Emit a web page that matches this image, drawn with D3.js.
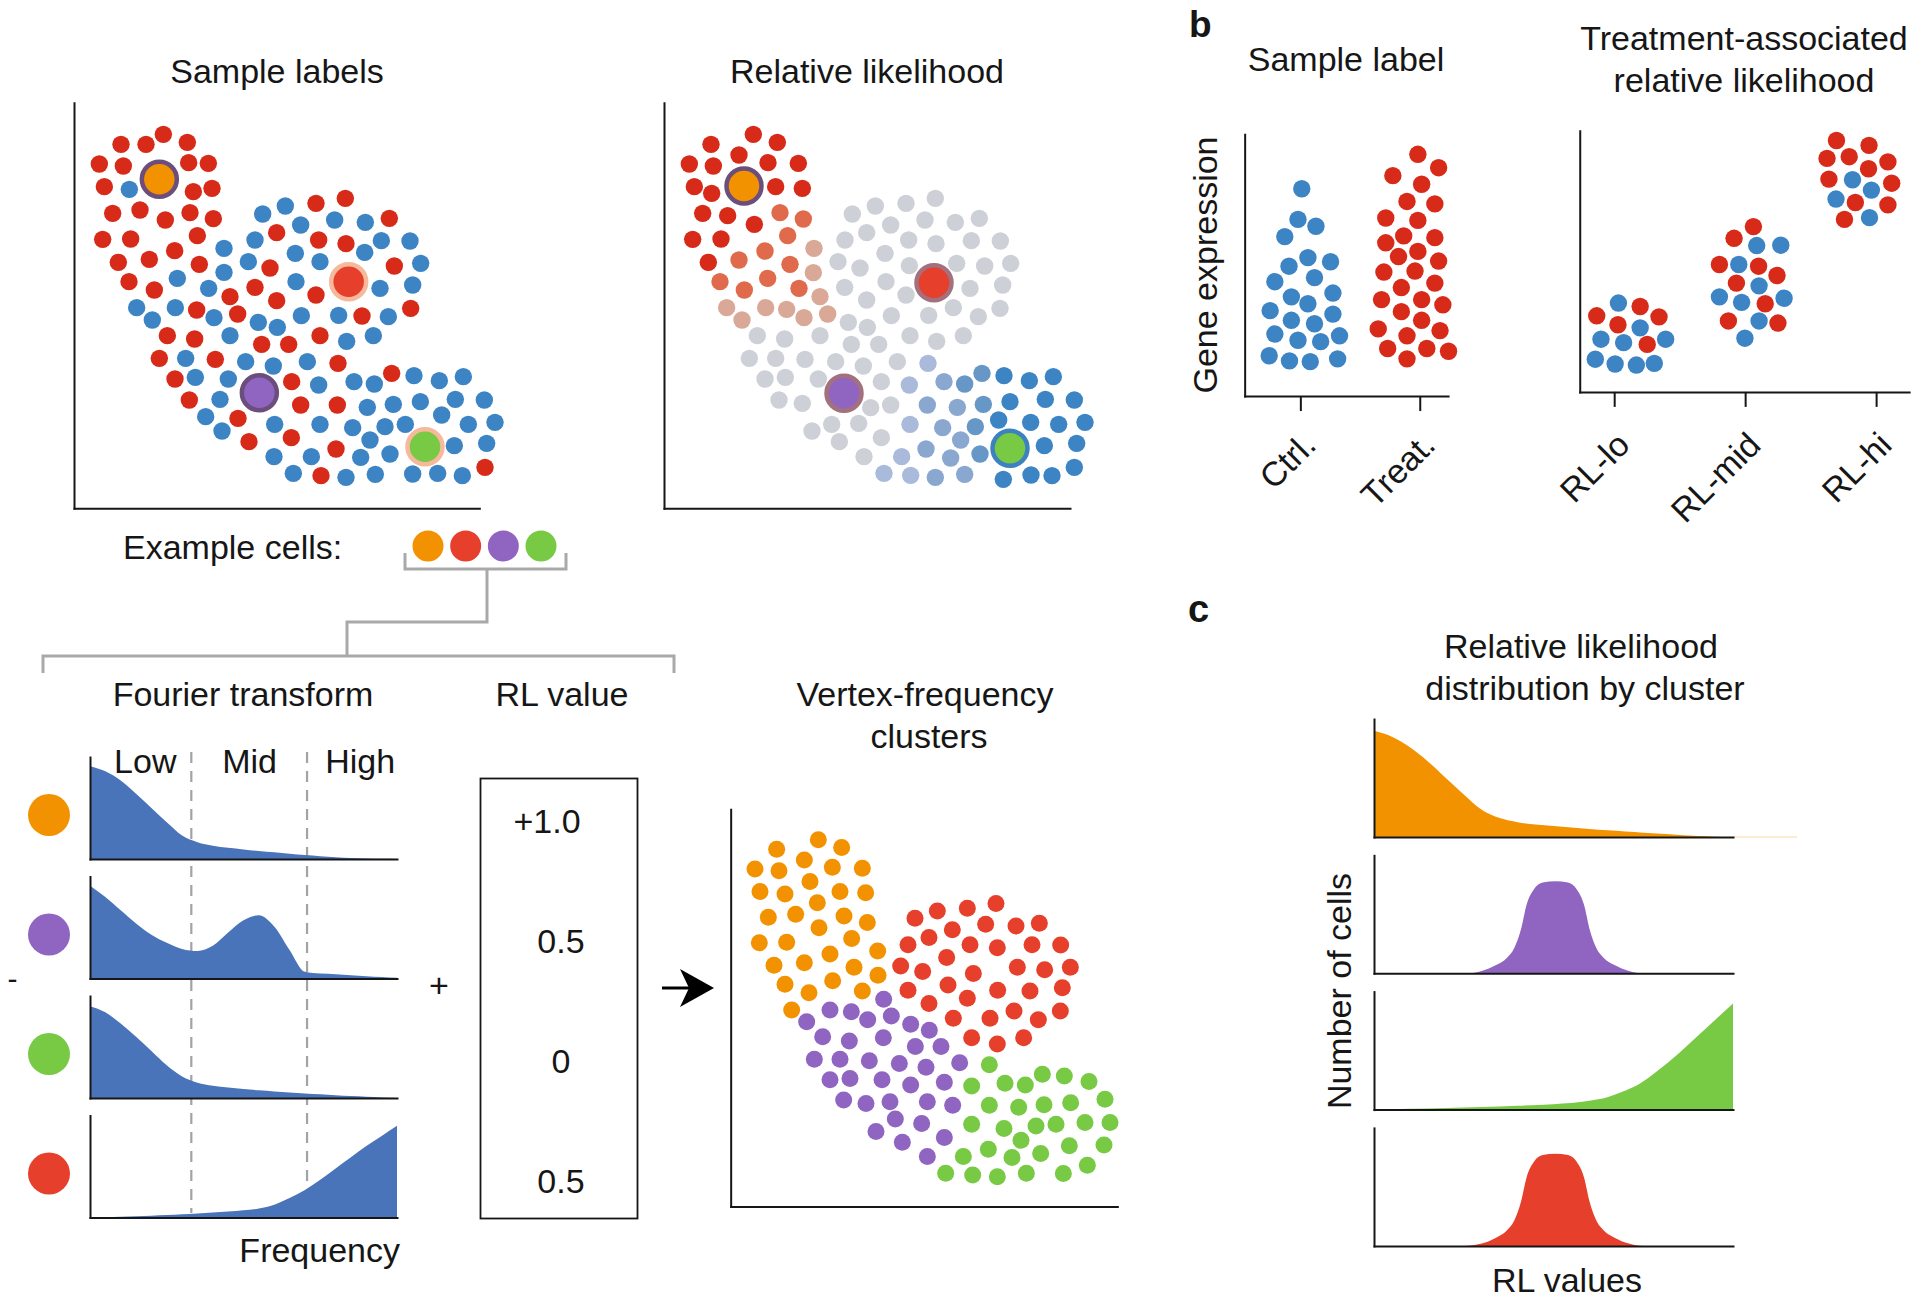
<!DOCTYPE html>
<html>
<head>
<meta charset="utf-8">
<script src="https://cdn.jsdelivr.net/npm/d3@7"></script>
<style>
html,body{margin:0;padding:0;background:#fff;}
svg{display:block;}
</style>
</head>
<body>
<svg id="fig" width="1920" height="1302" xmlns="http://www.w3.org/2000/svg"></svg>
<script>
// ======================= DATA =======================
// Panel a, "Sample labels": embedding coordinates [x, y, label] (1 = treated, 0 = control)
const sampleLabelCells = [
 [310,283,1],[183,313,1],[258,313,1],[382,307,1],[118,372,1],[190,378,1],[386,368,1],[445,370,1],
 [133,440,1],[208,448,0],[400,455,1],[456,445,1],[158,520,1],[240,510,1],[316,540,1],[390,518,1],
 [460,536,1],[128,598,1],[212,597,1],[412,587,1],[344,632,1],[175,667,1],[268,658,1],[418,673,1],
 [207,725,1],[283,750,1],[352,715,0],
 [608,522,0],[676,498,0],[768,490,1],[856,475,1],[722,555,0],[824,540,0],[916,547,0],[988,535,1],
 [585,600,0],[650,578,1],[776,600,1],[858,611,1],[964,602,0],[1050,603,0],[492,625,0],[565,665,0],
 [630,684,1],[706,640,0],[780,665,0],[914,637,0],[1003,678,1],[1082,670,0],[492,697,0],[446,745,0],
 [585,742,1],[708,725,0],[960,745,0],[1058,735,0],[510,770,1],[650,782,1],[768,765,1],[230,803,0],
 [277,840,0],[346,803,0],[410,810,1],[462,833,0],[533,822,1],[595,847,0],[652,862,0],[724,827,0],
 [836,826,0],[906,828,1],[985,830,0],[1052,805,1],[322,887,1],[404,897,1],[510,887,0],[605,913,1],
 [686,913,1],[780,887,1],[860,904,0],[940,887,0],[298,955,1],[377,955,0],[466,958,1],[557,965,0],
 [640,978,0],[742,965,0],[834,970,1],[345,1017,1],[406,1012,0],[505,1017,0],[695,1025,1],[776,1035,0],
 [882,1025,0],[943,1032,0],[995,1000,1],[1062,1007,0],[1138,1022,0],[1210,1010,0],[388,1080,1],[480,1078,0],
 [437,1130,0],[534,1135,1],[486,1173,0],[567,1205,1],[644,1153,0],[722,1095,1],[832,1095,1],[922,1102,0],
 [1000,1093,0],[1081,1085,0],[1186,1078,0],[1273,1080,0],[780,1153,0],[878,1163,0],[975,1160,0],[1036,1153,0],
 [1145,1125,0],[1225,1153,0],[1305,1147,0],[694,1193,1],[930,1200,0],[1183,1217,0],[1280,1210,0],[642,1250,0],
 [754,1250,0],[828,1227,1],[902,1252,0],[990,1242,0],[700,1300,0],[783,1307,1],[858,1312,0],[946,1303,0],
 [1058,1302,0],[1133,1300,0],[1207,1307,0],[1275,1282,1]
];

// Example cells (same four cells in every panel)
const exampleNames = ["orange","red","purple","green"];
const exampleSL = [[298,418],[866,725],[598,1058],[1095,1220]];
const exampleRL = [[312,438],[882,728],[612,1060],[1110,1225]];

// Panel a, "Relative likelihood": embedding coordinates grouped by RL value
const rlLevels = [1, 0.66, 0.33, 0, -0.25, -0.5, -0.75, -1];
const rlGroups = [
 [[340,283],[213,313],[412,307],[297,345],[148,372],[220,378],[384,368],[475,370],[163,440],[215,460],
  [407,440],[487,445],[188,520],[263,527],[343,553],[158,598],[243,597],[205,667]],
 [[420,518],[490,537],[443,587],[375,633],[297,660],[450,673],[240,725],[383,715],[313,750],[477,745]],
 [[522,625],[520,698],[540,770],[260,803],[306,840],[377,803],[440,808],[492,833],[563,822]],
 [[637,522],[706,498],[798,490],[886,475],[752,555],[855,540],[946,547],[1018,535],
  [615,600],[680,578],[806,600],[888,611],[994,602],[1081,603],
  [594,665],[660,684],[735,640],[808,677],[950,670],[1034,678],[1112,670],
  [614,742],[738,725],[990,745],[1088,735],[680,780],[798,765],[940,803],[1080,805],
  [625,847],[682,862],[754,827],[866,826],[1015,830],
  [352,887],[434,897],[540,887],[634,913],[716,913],[810,887],[890,904],[970,887],
  [328,955],[407,955],[495,958],[587,965],[670,978],[772,965],
  [375,1017],[436,1012],[535,1017],[724,1025],[417,1080],[487,1090],[692,1103],[752,1095],
  [575,1153],[656,1150],[516,1173],[598,1205],[724,1193],[672,1250]],
 [[864,970],[808,1035],[810,1153],[785,1250],[732,1300],[812,1306]],
 [[912,1025],[862,1095],[952,1102],[908,1163],[962,1200],[858,1227],[932,1254],[886,1312],[974,1303]],
 [[974,1032],[1026,1000],[1030,1093],[1006,1160],[1020,1242]],
 [[1092,1007],[1168,1022],[1240,1010],[1110,1085],[1216,1078],[1303,1080],[1076,1140],[1172,1147],
  [1256,1153],[1335,1147],[1213,1217],[1310,1210],[1090,1318],[1173,1305],[1236,1307],[1303,1282]]
];

// Vertex-frequency clusters: embedding coordinates per cluster
const vfOrange = [[355,503],[230,530],[425,525],[313,560],[165,585],[237,590],[397,580],[487,583],
 [330,620],[180,648],[255,655],[420,648],[497,652],[352,680],[205,720],[287,712],[432,717],[502,735],
 [357,750],[178,792],[260,790],[455,780],[533,815],[390,823],[222,855],[313,848],[462,860],[534,883],
 [255,908],[327,932],[398,898],[487,927],[275,980]];
const vfRed = [[645,723],[712,703],[802,695],[888,682],[757,755],[857,740],[948,745],[1018,737],
 [624,797],[687,777],[810,797],[892,806],[996,797],[1082,798],[602,857],[740,833],[668,872],[820,878],
 [952,860],[1034,867],[1111,860],[624,925],[744,910],[893,925],[990,927],[1087,918],[687,962],[802,947],
 [760,1003],[870,1003],[942,983],[1015,1007],[1081,983],[815,1058],[892,1075],[971,1058]];
const vfPurple = [[551,950],[390,980],[454,985],[320,1013],[503,1007],[574,997],[632,1020],[688,1037],
 [368,1055],[448,1067],[550,1058],[646,1082],[723,1082],[343,1118],[420,1118],[508,1122],[598,1130],
 [678,1140],[779,1128],[390,1175],[450,1172],[546,1175],[632,1190],[733,1182],[431,1232],[498,1242],
 [570,1237],[682,1237],[758,1247],[586,1285],[665,1298],[528,1320],[607,1350],[733,1337],[682,1390]];
const vfGreen = [[868,1133],[815,1193],[915,1185],[976,1190],[1027,1160],[1093,1165],[1167,1180],
 [868,1247],[956,1252],[1032,1245],[1112,1240],[1215,1230],[815,1300],[912,1312],[1008,1305],[1068,1300],
 [1155,1295],[1230,1295],[963,1345],[865,1370],[1108,1360],[1212,1358],[790,1390],[936,1393],[1022,1382],
 [737,1437],[818,1442],[892,1447],[979,1437],[1090,1438],[1162,1415]];

// Fourier transform spectra (frequency 0..1, power as % of axis)
const ftFreq = [0,0.05,0.1,0.15,0.2,0.25,0.3,0.35,0.4,0.45,0.5,0.55,0.6,0.65,0.7,0.75,0.8,0.85,0.9,0.95,1];
const ftOrange = [91,86,77,64,50,36,23,16.5,13,11,9.4,7.9,6.5,5.2,3.8,2.7,1.7,1.0,0.5,0.2,0];
const ftPurple = [91,80,67,54,43,35,29,27,32,45,57,62,51,28,6.5,4.8,4.2,3.2,2.3,1.4,0.7];
const ftGreen  = [90,84,73,60,46,32,21,15,12,10.2,8.8,7.5,6.4,5.4,4.4,3.6,2.8,2,1.3,0.6,0];
const ftRed    = [0,0.3,0.8,1.3,1.8,2.4,3.1,4,4.8,5.8,7,8.8,12.5,19,27,37,48,59,70,80,90];
const ftBands = ["Low","Mid","High"];
const ftBandLabelAt = [0.18, 0.52, 0.88];
const ftBandEdges = [0.33, 0.707];

// RL value box labels
const rlBoxLabels = ["+1.0","0.5","0","0.5"];

// Panel b: gene expression beeswarms [x, y, label]
const ctrlCells = [[258,548],[250,637],[288,657],[222,687],[271,748],[319,760],[231,773],[201,818],
 [285,806],[236,862],[271,882],[324,851],[191,902],[236,930],[285,940],[324,912],[201,970],[250,988],
 [298,992],[338,975],[189,1033],[232,1048],[276,1050],[334,1042]];
const treatCells = [[504,448],[548,487],[451,510],[512,535],[481,585],[540,592],[436,633],[504,640],
 [474,685],[540,690],[436,705],[463,745],[504,730],[548,758],[432,790],[498,787],[540,822],[469,835],
 [427,870],[512,870],[557,885],[469,905],[512,930],[420,955],[481,975],[551,960],[440,1012],[523,1012],
 [569,1020],[481,1042]];
const rlLoCells = [[929,880,0],[975,890,1],[883,917,1],[928,943,1],[975,952,0],[1015,920,1],[892,985,0],
 [940,995,0],[990,1000,1],[1029,985,0],[880,1043,0],[922,1057,0],[967,1060,0],[1005,1055,0]];
const rlMidCells = [[1215,658,1],[1174,692,1],[1222,713,0],[1273,712,0],[1143,768,1],[1184,768,0],
 [1226,773,1],[1179,822,1],[1227,830,0],[1265,800,1],[1143,862,0],[1190,878,0],[1240,882,1],[1280,866,0],
 [1162,932,1],[1227,932,0],[1267,938,1],[1197,982,0]];
const rlHiCells = [[1391,408,1],[1460,422,1],[1371,460,1],[1418,455,1],[1500,470,1],[1459,490,1],
 [1375,520,1],[1425,522,0],[1508,532,1],[1465,552,0],[1390,578,0],[1431,588,1],[1500,595,1],[1408,637,1],
 [1461,632,0]];
const sampleCats = ["Ctrl.","Treat."];
const rlCats = ["RL-lo","RL-mid","RL-hi"];

// Panel c: RL distributions per cluster [RL value 0..1, % of axis]
const distOrange = [[0,90],[0.05,85],[0.1,76],[0.15,64],[0.2,50],[0.25,36],[0.3,23],[0.35,16],[0.4,12.5],
 [0.45,10.5],[0.5,9.4],[0.55,8],[0.6,6.8],[0.65,5.7],[0.7,4.7],[0.75,3.7],[0.8,2.7],[0.85,1.7],[0.9,0.8],[0.95,0.3],[1,0]];
const distPurple = [[0,0],[0.26,0],[0.3,2],[0.34,7],[0.37,13],[0.39,21],[0.41,38],[0.425,58],[0.445,71],
 [0.47,77],[0.506,78],[0.54,77],[0.565,71],[0.585,58],[0.6,38],[0.62,21],[0.64,13],[0.67,7],[0.71,2],[0.75,0],[1,0]];
const distGreen = [[0,0],[0.1,0.7],[0.2,1.4],[0.3,2.2],[0.4,3.2],[0.5,4.6],[0.6,7.5],[0.65,10.5],[0.69,15],
 [0.74,22],[0.79,33],[0.85,48],[0.9,62],[0.95,76],[1,90]];
const distRed = [[0,0],[0.25,0],[0.3,2],[0.34,7],[0.37,13],[0.39,21],[0.41,38],[0.425,58],[0.445,71],
 [0.47,77],[0.505,78],[0.54,77],[0.565,71],[0.585,58],[0.6,38],[0.62,21],[0.64,13],[0.67,7],[0.71,2],[0.75,0],[1,0]];

// ======================= STYLE =======================
const FONT = "'Liberation Sans', Arial, Helvetica, sans-serif";
const INK = "#161616";
const RED = "#d72a19", BLUE = "#3d84c4";
const cellColor = {orange:"#f39200", red:"#e63f2b", purple:"#9065c1", green:"#78c944"};
const ringSL = {orange:"#6b4e7b", red:"#f7b99c", purple:"#6b4e7b", green:"#f7b99c"};
const ringRL = {orange:"#6b4e7b", red:"#a3717d", purple:"#a3717d", green:"#3c82c1"};
const FT_BLUE = "#4a74b9";
const BRACKET = "#a9a9a9";
const DOT_R = 8.7;

const svg = d3.select("#fig");

function txt(x, y, s, o = {}) {
  const t = svg.append("text")
    .attr("x", x).attr("y", y)
    .attr("text-anchor", o.anchor || "middle")
    .attr("font-family", FONT)
    .attr("font-size", o.size || 34)
    .attr("font-weight", o.weight || "normal")
    .attr("fill", o.fill || INK)
    .text(s);
  if (o.rotate) t.attr("transform", `rotate(${o.rotate},${x},${y})`);
  return t;
}

function frame(x0, x1, y0, y1, w = 2) {
  const g = svg.append("g");
  const xs = d3.scaleLinear().range([x0, x1]);
  const ys = d3.scaleLinear().range([y1, y0]);
  g.append("g").attr("transform", `translate(0,${y1})`)
    .call(d3.axisBottom(xs).tickValues([]).tickSizeOuter(0));
  g.append("g").attr("transform", `translate(${x0},0)`)
    .call(d3.axisLeft(ys).tickValues([]).tickSizeOuter(0));
  g.selectAll(".domain").attr("stroke", INK).attr("stroke-width", w).attr("stroke-linecap","square");
  return g;
}

function dots(data, sx, sy, r, fill) {
  svg.append("g").selectAll("circle").data(data).join("circle")
    .attr("cx", d => sx(d[0])).attr("cy", d => sy(d[1])).attr("r", r)
    .attr("fill", fill);
}

function examples(pos, sx, sy, rings) {
  svg.append("g").selectAll("circle").data(pos).join("circle")
    .attr("cx", d => sx(d[0])).attr("cy", d => sy(d[1])).attr("r", 17.5)
    .attr("fill", (d, i) => cellColor[exampleNames[i]])
    .attr("stroke", (d, i) => rings[exampleNames[i]])
    .attr("stroke-width", 4.5);
}

// ======================= PANEL a: Sample labels =======================
const slX = d3.scaleLinear().domain([0, 1380]).range([60, 520]);
const slY = d3.scaleLinear().domain([0, 1440]).range([40, 520]);
txt(277, 83, "Sample labels");
frame(slX(42), slX(1258), slY(188), slY(1405));
dots(sampleLabelCells, slX, slY, DOT_R, d => d[2] ? RED : BLUE);
examples(exampleSL, slX, slY, ringSL);

// ======================= PANEL a: Relative likelihood =======================
const rlX = d3.scaleLinear().domain([0, 1440]).range([640, 1120]);
const rlY = d3.scaleLinear().domain([0, 1440]).range([40, 520]);
const rlColor = d3.scaleLinear()
  .domain([-1, -0.75, -0.5, -0.25, 0, 0.33, 0.66, 1])
  .range([BLUE, "#6797c7", "#8aa8cf", "#a9badb", "#cdd0d6", "#d9a897", "#df6a4c", RED]);
txt(867, 83, "Relative likelihood");
frame(rlX(72), rlX(1290), rlY(188), rlY(1405));
const rlCells = rlGroups.flatMap((g, i) => g.map(p => [p[0], p[1], rlLevels[i]]));
dots(rlCells, rlX, rlY, DOT_R, d => rlColor(d[2]));
examples(exampleRL, rlX, rlY, ringRL);

// ======================= Example cells + brackets =======================
txt(123, 559, "Example cells:", {anchor: "start"});
const exX = d3.scalePoint().domain(exampleNames).range([428, 541]);
svg.append("g").selectAll("circle").data(exampleNames).join("circle")
  .attr("cx", d => exX(d)).attr("cy", 546).attr("r", 15.5).attr("fill", d => cellColor[d]);
const line = d3.line();
const brk = svg.append("g").attr("fill", "none").attr("stroke", BRACKET).attr("stroke-width", 3);
brk.append("path").attr("d", line([[405,553],[405,569],[566,569],[566,553]]));
brk.append("path").attr("d", line([[487,569],[487,622],[347,622],[347,656]]));
brk.append("path").attr("d", line([[43,673],[43,656],[674,656],[674,673]]));
txt(243, 706, "Fourier transform");
txt(562, 706, "RL value");

// ======================= Fourier transform rows =======================
const ftRows = [
  {cell: "orange", v: ftOrange},
  {cell: "purple", v: ftPurple},
  {cell: "green",  v: ftGreen},
  {cell: "red",    v: ftRed}
];
const ftX = d3.scaleLinear().domain([0, 1]).range([90, 397]);
svg.append("g").selectAll("line").data(ftBandEdges).join("line")
  .attr("x1", d => ftX(d)).attr("x2", d => ftX(d)).attr("y1", 752).attr("y2", 1213)
  .attr("stroke", "#a3a3a3").attr("stroke-width", 2.2).attr("stroke-dasharray", "11,8");
ftRows.forEach((row, i) => {
  const top = 757 + i * 119.5, bottom = top + 102;
  const y = d3.scaleLinear().domain([0, 100]).range([bottom, top]);
  const area = d3.area()
    .x((d, j) => ftX(ftFreq[j])).y0(bottom).y1(d => y(d))
    .curve(d3.curveMonotoneX);
  svg.append("path").datum(row.v).attr("d", area).attr("fill", FT_BLUE);
  frame(ftX(0), ftX(1), top, bottom);
  svg.append("circle").attr("cx", 49).attr("cy", top + 58).attr("r", 21)
    .attr("fill", cellColor[row.cell]);
});
ftBands.forEach((b, i) => txt(ftX(ftBandLabelAt[i]), 773, b));
txt(400, 1262, "Frequency", {anchor: "end"});
txt(12.5, 989, "-", {size: 30});
txt(439, 997, "+");

// ======================= RL value box =======================
svg.append("rect").attr("x", 480.5).attr("y", 778.5).attr("width", 157).attr("height", 440)
  .attr("fill", "none").attr("stroke", INK).attr("stroke-width", 1.8);
const boxY = d3.scalePoint().domain(d3.range(rlBoxLabels.length)).range([833, 1193]);
rlBoxLabels.forEach((s, i) => txt(561 - (s.startsWith("+") ? 14 : 0), boxY(i), s));

// arrow
svg.append("line").attr("x1", 662).attr("x2", 700).attr("y1", 988).attr("y2", 988)
  .attr("stroke", "#000").attr("stroke-width", 3.2);
svg.append("path").attr("d", "M714,988 L680,969 L689,988 L680,1007 Z").attr("fill", "#000");

// ======================= Vertex-frequency clusters =======================
const vfX = d3.scaleLinear().domain([0, 1290]).range([700, 1130]);
const vfY = d3.scaleLinear().domain([0, 1568]).range([660, 1220]);
txt(925, 706, "Vertex-frequency");
txt(929, 748, "clusters");
frame(vfX(92), vfX(1252), vfY(418), vfY(1530));
dots(vfOrange, vfX, vfY, 8.5, cellColor.orange);
dots(vfRed, vfX, vfY, 8.5, cellColor.red);
dots(vfPurple, vfX, vfY, 8.5, cellColor.purple);
dots(vfGreen, vfX, vfY, 8.5, cellColor.green);

// ======================= PANEL b =======================
txt(1189, 37, "b", {anchor: "start", weight: "bold", size: 37});
txt(1346, 71, "Sample label");
txt(1744, 50, "Treatment-associated");
txt(1744, 92, "relative likelihood");
txt(1217, 265, "Gene expression", {rotate: -90});

const bx = d3.scaleLinear().domain([0, 1568]).range([1180, 1920]);
const by = d3.scaleLinear().domain([0, 1568]).range([0, 540]);

function catAxis(cats, x0, x1, axisY) {
  const s = d3.scalePoint().domain(cats).range([x0, x1]);
  const g = svg.append("g").attr("transform", `translate(0,${axisY})`)
    .call(d3.axisBottom(s).tickSize(15).tickSizeOuter(0));
  g.select(".domain").remove();
  g.selectAll(".tick line").attr("stroke", INK).attr("stroke-width", 2);
  g.selectAll(".tick text")
    .attr("x", 0).attr("y", 0).attr("dy", 0)
    .attr("transform", `translate(17,${447 - axisY}) rotate(-45)`)
    .attr("text-anchor", "end")
    .attr("font-family", FONT).attr("font-size", 34).attr("fill", INK);
}
frame(bx(137), bx(568), by(390), by(1150));
catAxis(sampleCats, bx(255), bx(508), by(1150));
frame(bx(847), bx(1545), by(380), by(1138));
catAxis(rlCats, bx(920), bx(1475), by(1138));

dots(ctrlCells, bx, by, 8.7, BLUE);
dots(treatCells, bx, by, 8.7, RED);
dots(rlLoCells, bx, by, 8.7, d => d[2] ? RED : BLUE);
dots(rlMidCells, bx, by, 8.7, d => d[2] ? RED : BLUE);
dots(rlHiCells, bx, by, 8.7, d => d[2] ? RED : BLUE);

// ======================= PANEL c =======================
txt(1188, 622, "c", {anchor: "start", weight: "bold", size: 38});
txt(1581, 658, "Relative likelihood");
txt(1585, 700, "distribution by cluster");
txt(1351, 991, "Number of cells", {rotate: -90});
txt(1567, 1292, "RL values");

const distRows = [
  {cell: "orange", v: distOrange},
  {cell: "purple", v: distPurple},
  {cell: "green",  v: distGreen},
  {cell: "red",    v: distRed}
];
const cX = d3.scaleLinear().domain([0, 1]).range([1374, 1733]);
svg.append("line").attr("x1", cX(1)).attr("x2", 1797).attr("y1", 837).attr("y2", 837)
  .attr("stroke", "#fce5c4").attr("stroke-width", 1.5);
distRows.forEach((row, i) => {
  const top = 719 + i * 136.3, bottom = top + 118;
  const y = d3.scaleLinear().domain([0, 100]).range([bottom, top]);
  const area = d3.area().x(d => cX(d[0])).y0(bottom).y1(d => y(d[1])).curve(d3.curveMonotoneX);
  svg.append("path").datum(row.v).attr("d", area).attr("fill", cellColor[row.cell]);
  frame(cX(0), cX(1), top, bottom);
});
</script>
</body>
</html>
